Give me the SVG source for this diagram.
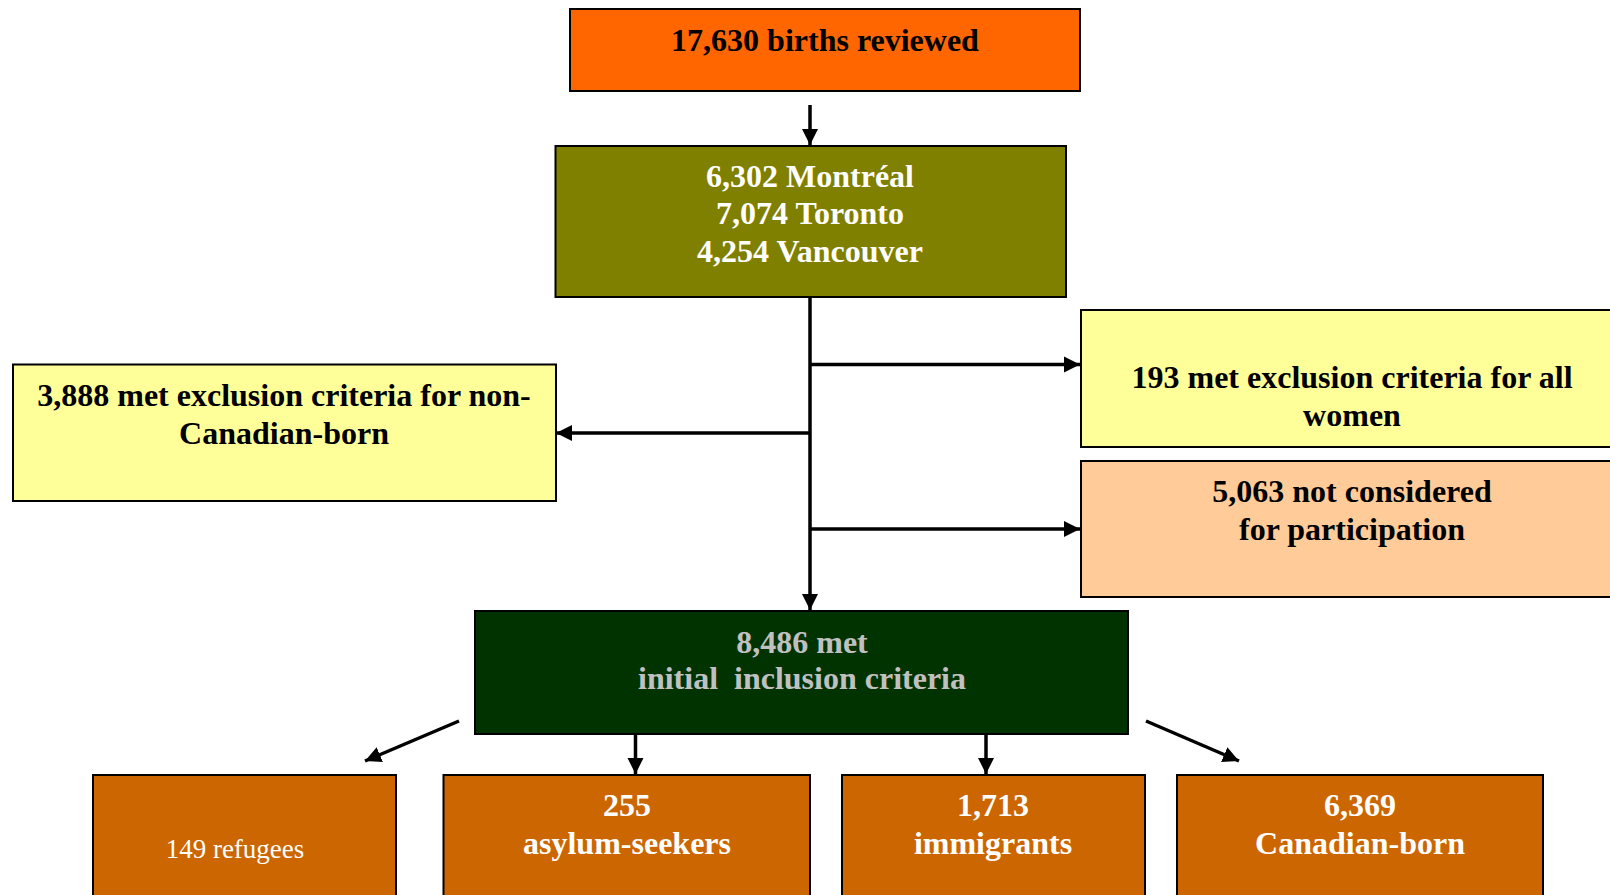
<svg xmlns="http://www.w3.org/2000/svg" width="1610" height="895" viewBox="0 0 1610 895">
<style>
.box{stroke:#000;stroke-width:2}
.t{font-family:"Liberation Serif","Times New Roman",serif;font-weight:bold;font-size:32px;text-anchor:middle}
.tn{font-family:"Liberation Serif","Times New Roman",serif;font-size:27px;text-anchor:middle;fill:#fff}
.w{fill:#fff}
.k{fill:#000}
.g{fill:#c0c0c0}
.c{stroke:#000;stroke-width:3.5;fill:none}
</style>
<defs>
<marker id="ah" viewBox="0 0 10 10" refX="10" refY="5" markerWidth="4.6" markerHeight="4.6" orient="auto" markerUnits="strokeWidth">
<path d="M0,0 L10,5 L0,10 z" fill="#000"/>
</marker>
</defs>
<rect width="1610" height="895" fill="#fff"/>
<g id="connectors">
<line class="c" x1="810" y1="105" x2="810" y2="145" marker-end="url(#ah)"/>
<line class="c" x1="810" y1="297" x2="810" y2="610" marker-end="url(#ah)"/>
<line class="c" x1="810" y1="364.5" x2="1080" y2="364.5" marker-end="url(#ah)"/>
<line class="c" x1="810" y1="529" x2="1080" y2="529" marker-end="url(#ah)"/>
<line class="c" x1="810" y1="433" x2="556" y2="433" marker-end="url(#ah)"/>
<line class="c" x1="459" y1="721" x2="365" y2="761" marker-end="url(#ah)"/>
<line class="c" x1="635.5" y1="734" x2="635.5" y2="774" marker-end="url(#ah)"/>
<line class="c" x1="986" y1="734" x2="986" y2="774" marker-end="url(#ah)"/>
<line class="c" x1="1146" y1="721" x2="1239" y2="761" marker-end="url(#ah)"/>
</g>
<g id="n_births">
<rect class="box" x="570" y="9" width="510" height="82" fill="#ff6600"/>
<text class="t k" x="825" y="51">17,630 births reviewed</text>
</g>
<g id="n_cities">
<rect class="box" x="555.5" y="146" width="510.5" height="151" fill="#808000"/>
<text class="t w" x="810" y="187">6,302 Montréal</text>
<text class="t w" x="810" y="224">7,074 Toronto</text>
<text class="t w" x="810" y="262">4,254 Vancouver</text>
</g>
<g id="n_excl_all">
<rect class="box" x="1081" y="310" width="535" height="137" fill="#ffff99"/>
<text class="t k" x="1352" y="388">193 met exclusion criteria for all</text>
<text class="t k" x="1352" y="426">women</text>
</g>
<g id="n_not_considered">
<rect class="box" x="1081" y="461" width="535" height="136" fill="#ffcc99"/>
<text class="t k" x="1352" y="502">5,063 not considered</text>
<text class="t k" x="1352" y="540">for participation</text>
</g>
<g id="n_excl_noncdn">
<rect class="box" x="13" y="364.5" width="543" height="136.5" fill="#ffff99"/>
<text class="t k" x="284" y="405.5">3,888 met exclusion criteria for non-</text>
<text class="t k" x="284" y="443.5">Canadian-born</text>
</g>
<g id="n_included">
<rect class="box" x="475" y="611" width="653" height="123" fill="#003300"/>
<text class="t g" x="802" y="653">8,486 met</text>
<text class="t g" x="802" y="689" xml:space="preserve">initial  inclusion criteria</text>
</g>
<g id="n_refugees">
<rect class="box" x="93" y="775" width="303" height="130" fill="#cc6600"/>
<text class="tn" x="235" y="858">149 refugees</text>
</g>
<g id="n_asylum">
<rect class="box" x="443.5" y="775" width="366.5" height="130" fill="#cc6600"/>
<text class="t w" x="627" y="816">255</text>
<text class="t w" x="627" y="854">asylum-seekers</text>
</g>
<g id="n_immigrants">
<rect class="box" x="842" y="775" width="303" height="130" fill="#cc6600"/>
<text class="t w" x="993" y="816">1,713</text>
<text class="t w" x="993" y="854">immigrants</text>
</g>
<g id="n_canadian">
<rect class="box" x="1177" y="775" width="366" height="130" fill="#cc6600"/>
<text class="t w" x="1360" y="816">6,369</text>
<text class="t w" x="1360" y="854">Canadian-born</text>
</g>
</svg>
